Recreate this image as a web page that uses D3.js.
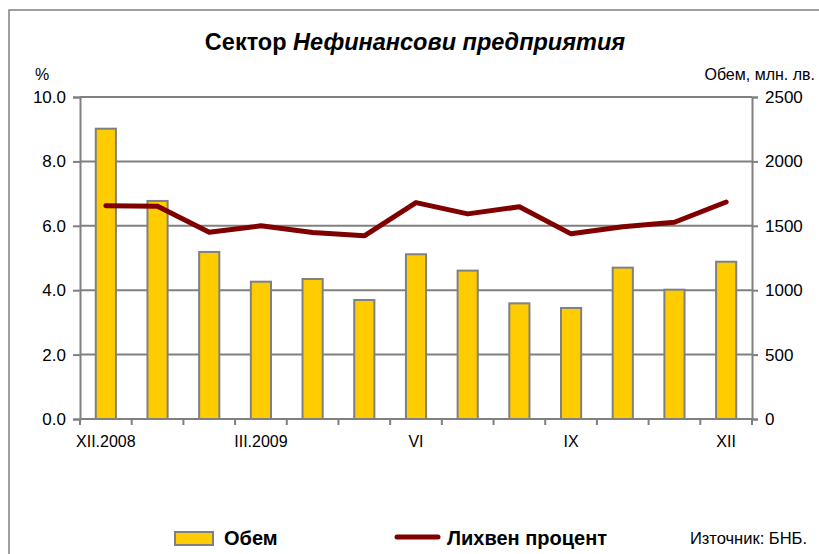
<!DOCTYPE html>
<html>
<head>
<meta charset="utf-8">
<script src="https://cdn.jsdelivr.net/npm/d3@7"></script>
<style>
  body { margin: 0; background: #fff; }
  text { font-family: "Liberation Sans", Arial, sans-serif; fill: #000; }
</style>
</head>
<body>
<div id="chart"></div>
<script>
// months, Dec 2008 - Dec 2009
var months = ['XII.2008', 'I', 'II', 'III.2009', 'IV', 'V', 'VI', 'VII', 'VIII', 'IX', 'X', 'XI', 'XII'];
var monthLabels = ['XII.2008', '', '', 'III.2009', '', '', 'VI', '', '', 'IX', '', '', 'XII'];
// volume, mln. lv. (right axis)
var volume = [2254, 1693, 1297, 1066, 1087, 924, 1279, 1152, 898, 862, 1175, 1004, 1221];
// interest rate, % (left axis)
var rate = [6.62, 6.61, 5.80, 6.00, 5.79, 5.69, 6.72, 6.37, 6.59, 5.75, 5.97, 6.11, 6.74];
var leftTicks = [0, 2, 4, 6, 8, 10];
var rightTicks = [0, 500, 1000, 1500, 2000, 2500];

var width = 819, height = 554;
var plotLeft = 80, plotRight = 752, plotTop = 97, plotBottom = 419;
var grey = '#808080';

var svg = d3.select('#chart')
    .append('svg')
    .attr('width', width)
    .attr('height', height);

// frame
svg.append('path')
    .attr('d', 'M9,' + height + 'V10H' + width)
    .attr('fill', 'none')
    .attr('stroke', grey)
    .attr('stroke-width', 1.5);

var x = d3.scaleBand().domain(months).range([plotLeft, plotRight]).paddingInner(0.61).paddingOuter(0.305);
var step = x.step();
var yL = d3.scaleLinear().domain([0, 10]).range([plotBottom, plotTop]);
var yR = d3.scaleLinear().domain([0, 2500]).range([plotBottom, plotTop]);

// title
var title = svg.append('text')
    .attr('x', 415)
    .attr('y', 50)
    .attr('text-anchor', 'middle')
    .style('font-size', '23.5px')
    .style('font-weight', 'bold');
title.append('tspan').text('Сектор ');
title.append('tspan').style('font-style', 'italic').text('Нефинансови предприятия');

// axis titles
svg.append('text').attr('x', 42).attr('y', 80).attr('text-anchor', 'middle')
    .style('font-size', '16px').text('%');
svg.append('text').attr('x', 815).attr('y', 80).attr('text-anchor', 'end')
    .style('font-size', '16px').text('Обем, млн. лв.');

// gridlines
svg.append('g').selectAll('line')
    .data(leftTicks.slice(1))
    .enter()
    .append('line')
    .attr('x1', plotLeft).attr('x2', plotRight)
    .attr('y1', d => yL(d)).attr('y2', d => yL(d))
    .attr('stroke', grey).attr('stroke-width', 2);

// bars
svg.append('g').selectAll('rect')
    .data(volume)
    .enter()
    .append('rect')
    .attr('x', (d, i) => x(months[i]))
    .attr('y', d => yR(d))
    .attr('width', x.bandwidth())
    .attr('height', d => plotBottom - yR(d))
    .attr('fill', '#FFCC00')
    .attr('stroke', grey)
    .attr('stroke-width', 2);

// axes
var axisLeft = svg.append('g')
    .attr('transform', 'translate(' + plotLeft + ',0)')
    .call(d3.axisLeft(yL).tickValues(leftTicks).tickFormat(d3.format('.1f')).tickSize(7).tickPadding(7));
var axisRight = svg.append('g')
    .attr('transform', 'translate(' + plotRight + ',0)')
    .call(d3.axisRight(yR).tickValues(rightTicks).tickFormat(d3.format('d')).tickSize(6).tickPadding(7));
[axisLeft, axisRight].forEach(function (a) {
    a.select('.domain').attr('stroke', grey).attr('stroke-width', 2);
    a.selectAll('.tick line').attr('stroke', grey).attr('stroke-width', 2);
    a.selectAll('.tick text').style('font-size', '17px').style('font-family', '"Liberation Sans", Arial, sans-serif').attr('fill', '#000');
});

// x axis
svg.append('line')
    .attr('x1', plotLeft).attr('x2', plotRight)
    .attr('y1', plotBottom).attr('y2', plotBottom)
    .attr('stroke', grey).attr('stroke-width', 2);
svg.append('g').selectAll('line')
    .data(d3.range(months.length + 1))
    .enter()
    .append('line')
    .attr('x1', i => plotLeft + i * step).attr('x2', i => plotLeft + i * step)
    .attr('y1', plotBottom).attr('y2', plotBottom + 6)
    .attr('stroke', grey).attr('stroke-width', 2);
svg.append('g').selectAll('text')
    .data(monthLabels)
    .enter()
    .append('text')
    .attr('x', (d, i) => x(months[i]) + x.bandwidth() / 2)
    .attr('y', 447)
    .attr('text-anchor', 'middle')
    .style('font-size', '16px')
    .text(d => d);

// rate line
var line = d3.line()
    .x((d, i) => x(months[i]) + x.bandwidth() / 2)
    .y(d => yL(d));
svg.append('path')
    .datum(rate)
    .attr('d', line)
    .attr('fill', 'none')
    .attr('stroke', '#800000')
    .attr('stroke-width', 5)
    .attr('stroke-linejoin', 'round')
    .attr('stroke-linecap', 'round');

// legend
svg.append('rect')
    .attr('x', 175).attr('y', 532).attr('width', 38).attr('height', 13)
    .attr('fill', '#FFCC00').attr('stroke', grey).attr('stroke-width', 2);
svg.append('text').attr('x', 224).attr('y', 545)
    .style('font-size', '20px').style('font-weight', 'bold').text('Обем');
svg.append('line')
    .attr('x1', 397).attr('x2', 438).attr('y1', 537).attr('y2', 537)
    .attr('stroke', '#800000').attr('stroke-width', 5).attr('stroke-linecap', 'round');
svg.append('text').attr('x', 447).attr('y', 545)
    .style('font-size', '20px').style('font-weight', 'bold').text('Лихвен процент');
svg.append('text').attr('x', 807).attr('y', 544)
    .attr('text-anchor', 'end')
    .style('font-size', '16.5px').text('Източник: БНБ.');
</script>
</body>
</html>
